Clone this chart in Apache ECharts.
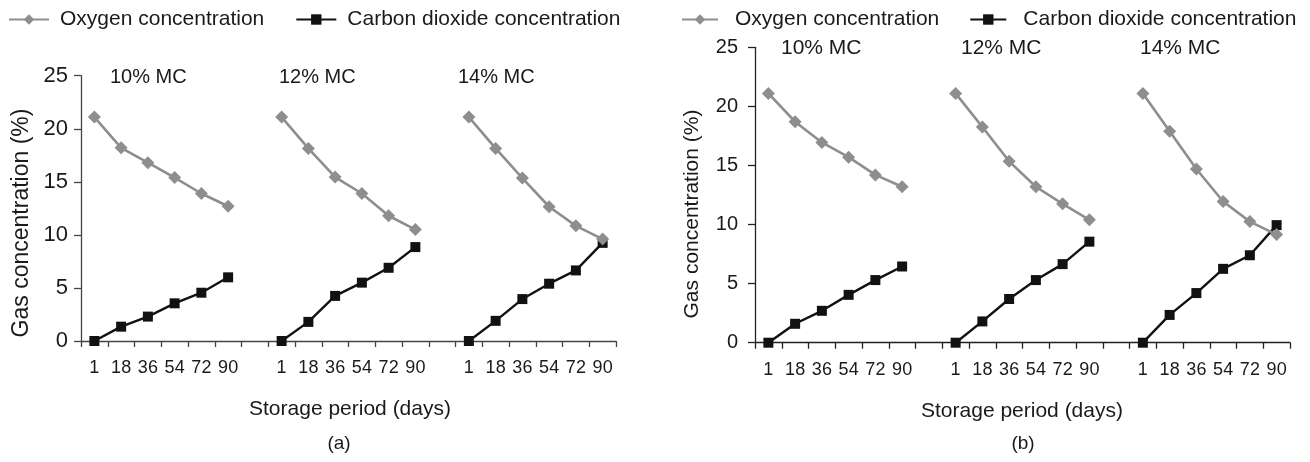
<!DOCTYPE html>
<html>
<head>
<meta charset="utf-8">
<script src="https://cdn.jsdelivr.net/npm/echarts@6/dist/echarts.min.js"></script>
<style>
html,body{margin:0;padding:0;background:#fff;}
#chart{width:1310px;height:462px;}
</style>
</head>
<body>
<div id="chart"></div>
<script>
// ---- data ----
const days = ["1", "18", "36", "54", "72", "90"];
const groups = ["10% MC", "12% MC", "14% MC"];
const seriesNames = ["Oxygen concentration", "Carbon dioxide concentration"];
const yTicks = [0, 5, 10, 15, 20, 25];

// (a)
const o2_a_10 = [21.1, 18.2, 16.8, 15.4, 13.9, 12.7];
const co2_a_10 = [0, 1.35, 2.3, 3.55, 4.55, 6.0];
const o2_a_12 = [21.1, 18.15, 15.45, 13.9, 11.8, 10.5];
const co2_a_12 = [0, 1.8, 4.25, 5.5, 6.9, 8.85];
const o2_a_14 = [21.1, 18.15, 15.35, 12.65, 10.85, 9.6];
const co2_a_14 = [0, 1.9, 3.95, 5.4, 6.65, 9.25];
// (b)
const o2_b_10 = [21.1, 18.7, 16.95, 15.7, 14.2, 13.2];
const co2_b_10 = [0, 1.6, 2.7, 4.05, 5.3, 6.45];
const o2_b_12 = [21.1, 18.25, 15.35, 13.2, 11.75, 10.4];
const co2_b_12 = [0, 1.8, 3.7, 5.3, 6.65, 8.55];
const o2_b_14 = [21.1, 17.9, 14.7, 11.95, 10.25, 9.15];
const co2_b_14 = [0, 2.35, 4.2, 6.25, 7.4, 9.95];

// ---- build ----
function joinGroups(a, b, c) { return a.concat([null], b, [null], c); }
const cats = joinGroups(days, days, days).map(v => v === null ? "" : v);
const O2A = joinGroups(o2_a_10, o2_a_12, o2_a_14);
const CO2A = joinGroups(co2_a_10, co2_a_12, co2_a_14);
const O2B = joinGroups(o2_b_10, o2_b_12, o2_b_14);
const CO2B = joinGroups(co2_b_10, co2_b_12, co2_b_14);

const FONT = "'Liberation Sans', Arial, Helvetica, sans-serif";
const GRAY = "#8e8e8e";
const BLACK = "#111111";
const TXT = "#1a1a1a";

function xAxis(gi, lineColor) {
  return {
    type: "category", gridIndex: gi, data: cats, boundaryGap: true,
    axisLine: { show: true, lineStyle: { color: lineColor, width: 1.3 } },
    axisTick: { show: true, inside: false, length: 6, interval: 0, lineStyle: { color: lineColor, width: 1.3 } },
    axisLabel: { interval: 0, color: TXT, fontSize: 18, fontFamily: FONT, margin: 18 },
    splitLine: { show: false }
  };
}
function yAxis(gi, lineColor, fs, margin) {
  return {
    type: "value", gridIndex: gi, min: 0, max: 25, interval: 5,
    axisLine: { show: true, lineStyle: { color: lineColor, width: 1.3 } },
    axisTick: { show: true, inside: false, length: 7, lineStyle: { color: lineColor, width: 1.3 } },
    axisLabel: { color: TXT, fontSize: fs, fontFamily: FONT, margin: margin,
                 formatter: v => yTicks.includes(v) ? String(v) : "" },
    splitLine: { show: false }
  };
}
function o2Series(gi, data) {
  return {
    name: seriesNames[0], type: "line", xAxisIndex: gi, yAxisIndex: gi, data: data,
    connectNulls: false, symbol: "diamond", symbolSize: 13,
    lineStyle: { color: GRAY, width: 2.6 }, itemStyle: { color: GRAY }, z: 3, animation: false
  };
}
function co2Series(gi, data) {
  return {
    name: seriesNames[1], type: "line", xAxisIndex: gi, yAxisIndex: gi, data: data,
    connectNulls: false, symbol: "rect", symbolSize: 10,
    lineStyle: { color: BLACK, width: 2.4 }, itemStyle: { color: BLACK }, z: 2, animation: false
  };
}
function txt(x, y, text, size) {
  return {
    type: "text", x: x, y: y,
    style: { text: text, fontSize: size, fontFamily: FONT, fill: TXT, align: "left", verticalAlign: "middle" }
  };
}
function ctxt(x, y, text, size, rot) {
  return {
    type: "text", x: x, y: y, rotation: rot || 0,
    style: { text: text, fontSize: size, fontFamily: FONT, fill: TXT, align: "center", verticalAlign: "middle" }
  };
}
function legend(left, iw, gap, padL) {
  return {
    left: left, top: 9, width: 640, padding: 0, orient: "horizontal",
    itemWidth: iw, itemHeight: 13, itemGap: gap,
    data: seriesNames, selectedMode: false,
    textStyle: { fontSize: 21, fontFamily: FONT, color: TXT, padding: [0, 0, 0, padL] }
  };
}

const chart = echarts.init(document.getElementById("chart"), null, { renderer: "canvas" });
chart.setOption({
  backgroundColor: "#ffffff",
  animation: false,
  legend: [legend(8, 40, 31, 6), legend(681, 36, 30, 12)],
  grid: [
    { left: 81, top: 75.7, width: 535, height: 265.3, containLabel: false },
    { left: 755, top: 47.3, width: 535, height: 295.4, containLabel: false }
  ],
  xAxis: [xAxis(0, "#444444"), xAxis(1, "#222222")],
  yAxis: [yAxis(0, "#444444", 22, 13), yAxis(1, "#222222", 20, 17)],
  series: [o2Series(0, O2A), co2Series(0, CO2A), o2Series(1, O2B), co2Series(1, CO2B)],
  graphic: [
    txt(110, 77, groups[0], 20), txt(279, 77, groups[1], 20), txt(458, 77, groups[2], 20),
    txt(781, 48, groups[0], 21), txt(961, 48, groups[1], 21), txt(1140, 48, groups[2], 21),
    ctxt(22, 223, "Gas concentration (%)", 23, Math.PI / 2),
    ctxt(692, 214, "Gas concentration (%)", 21, Math.PI / 2),
    ctxt(350, 409, "Storage period (days)", 21),
    ctxt(339, 444, "(a)", 19),
    ctxt(1022, 411, "Storage period (days)", 21),
    ctxt(1023, 444, "(b)", 19)
  ]
});
</script>
</body>
</html>
